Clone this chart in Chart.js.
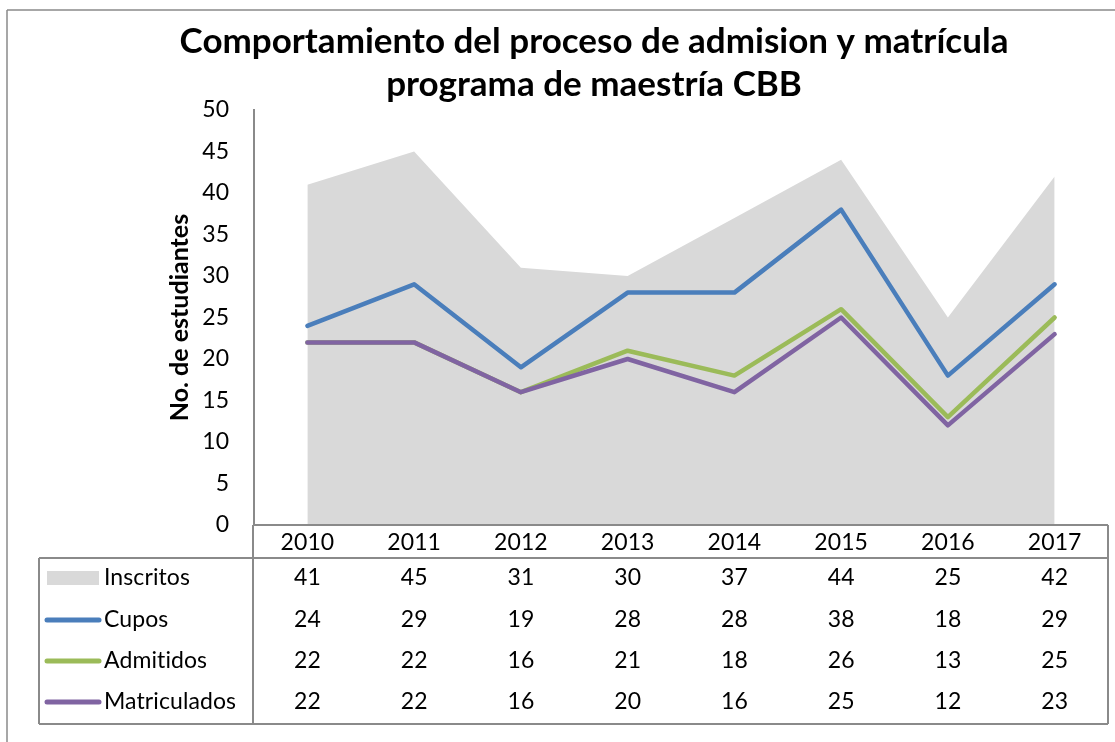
<!DOCTYPE html>
<html>
<head>
<meta charset="utf-8">
<script src="https://cdn.jsdelivr.net/npm/chart.js@4.4.1/dist/chart.umd.min.js"></script>
<style>
  html, body { margin:0; padding:0; background:#fff; }
  #wrap { width:1115px; height:742px; }
</style>
</head>
<body>
<div id="wrap"><canvas id="chart" width="1115" height="742"></canvas></div>
<script>
// Admision y matricula - maestria CBB
const YEARS = ['2010','2011','2012','2013','2014','2015','2016','2017'];
const INSCRITOS = [41, 45, 31, 30, 37, 44, 25, 42];
const CUPOS = [24, 29, 19, 28, 28, 38, 18, 29];
const ADMITIDOS = [22, 22, 16, 21, 18, 26, 13, 25];
const MATRICULADOS = [22, 22, 16, 20, 16, 25, 12, 23];
const Y_MAX = 50, Y_STEP = 5;

const FONT = 'Lato, Calibri, "DejaVu Sans", sans-serif';
const GRAY_LINE = '#8a8a8a';

// draws the outer frame and the data table under the plot
const dataTable = {
  id: 'dataTable',
  afterDraw(chart) {
    const ctx = chart.ctx;
    const xs = chart.scales.x;
    const area = chart.chartArea;
    const L = 39, R = area.right, T = area.bottom, H = 558, B = 724, YL = area.left;
    const line = (x1, y1, x2, y2) => { ctx.beginPath(); ctx.moveTo(x1, y1); ctx.lineTo(x2, y2); ctx.stroke(); };

    ctx.save();
    ctx.strokeStyle = GRAY_LINE;
    ctx.lineWidth = 1.5;
    line(7, 10, 1115, 10);
    line(7, 10, 7, 742);

    ctx.lineWidth = 2;
    line(YL - 1, T, R, T);
    line(YL - 1, T, YL - 1, B);
    line(R, T, R, B);
    line(L, H, R, H);
    line(L, H, L, B);
    line(L, B, R, B);

    ctx.fillStyle = '#000';
    ctx.font = '23px ' + FONT;
    ctx.letterSpacing = '0.1px';
    ctx.textBaseline = 'middle';
    ctx.textAlign = 'center';
    YEARS.forEach((y, i) => ctx.fillText(xs.getLabelForValue(i), xs.getPixelForValue(i), 543));

    const rowsY = [578, 620, 661, 702];
    chart.data.datasets.forEach((ds, r) => {
      const y = rowsY[r];
      if (ds.fill) {
        ctx.fillStyle = ds.backgroundColor;
        ctx.fillRect(47, y - 7, 52, 14);
      } else {
        ctx.strokeStyle = ds.borderColor;
        ctx.lineWidth = 5;
        ctx.lineCap = 'round';
        line(47, y, 99, y);
      }
      ctx.fillStyle = '#000';
      ctx.textAlign = 'left';
      ctx.fillText(ds.label, 104, y);
      ctx.textAlign = 'center';
      ds.data.forEach((v, i) => ctx.fillText(String(v), xs.getPixelForValue(i), y));
    });
    ctx.restore();
  }
};

const lineDs = (label, data, color, order) => ({
  label, data,
  borderColor: color,
  backgroundColor: color,
  borderWidth: 4.5,
  borderCapStyle: 'round',
  borderJoinStyle: 'round',
  tension: 0,
  pointRadius: 0,
  fill: false,
  order
});

new Chart(document.getElementById('chart'), {
  type: 'line',
  data: {
    labels: YEARS,
    datasets: [
      { label: 'Inscritos', data: INSCRITOS, fill: 'origin', backgroundColor: '#d9d9d9',
        borderWidth: 0, pointRadius: 0, tension: 0, order: 4 },
      lineDs('Cupos', CUPOS, '#4a7ebb', 3),
      lineDs('Admitidos', ADMITIDOS, '#9bbb59', 2),
      lineDs('Matriculados', MATRICULADOS, '#8064a2', 1)
    ]
  },
  options: {
    responsive: false,
    animation: false,
    layout: { padding: { left: 80, right: 7, top: 0, bottom: 217 } },
    plugins: {
      legend: { display: false },
      tooltip: { enabled: false },
      title: {
        display: true,
        text: ['Comportamiento del proceso de admision y matrícula', 'programa de maestría CBB'],
        color: '#000',
        font: { family: FONT, size: 35, weight: 'bold', lineHeight: '43px' },
        padding: { top: 20, bottom: 4 }
      }
    },
    scales: {
      x: { display: false, offset: true },
      y: {
        min: 0, max: Y_MAX,
        afterFit: s => { s.width = 174; },
        ticks: { stepSize: Y_STEP, color: '#000', padding: 25, font: { family: FONT, size: 23 } },
        grid: { display: false, drawTicks: false },
        border: { display: true, color: GRAY_LINE, width: 2 },
        title: {
          display: true,
          text: 'No. de estudiantes',
          color: '#000',
          font: { family: FONT, size: 25, weight: 'bold' },
          padding: { top: 85, bottom: 0 }
        }
      }
    }
  },
  plugins: [dataTable]
});
</script>
</body>
</html>
